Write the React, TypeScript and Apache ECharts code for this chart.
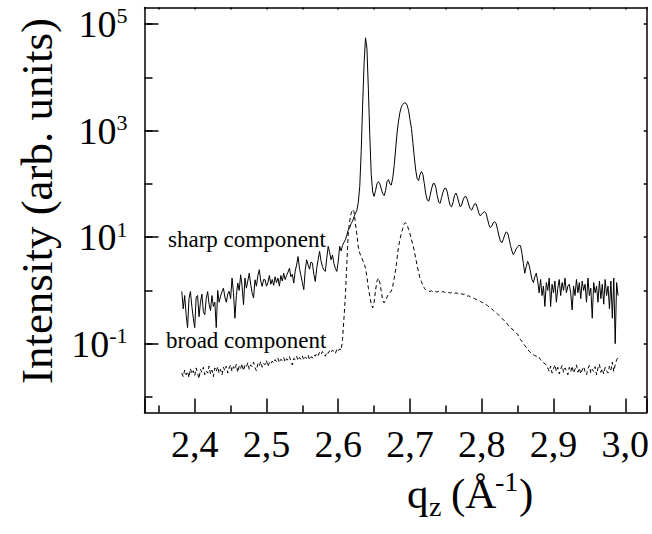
import React, { useEffect, useRef } from 'react';
import * as echarts from 'echarts';

// q grid of both measured curves (Å^-1)
const Q_START = 2.382;
const Q_STEP = 0.002;

// sharp component intensities (arb. units), one per q step
const sharpValues = [
  0.95, 0.45, 0.8, 0.35, 0.2, 0.7, 0.95, 0.5, 0.3, 0.2,
  0.75, 0.8, 0.32, 0.6, 0.85, 0.4, 0.35, 0.7, 0.95, 0.55,
  0.42, 0.8, 0.5, 0.6, 0.2, 1.0, 0.6, 0.77, 0.95, 1.1,
  0.75, 0.6, 0.85, 0.96, 0.7, 1.7, 0.9, 0.3, 0.8, 1.37,
  1.0, 1.96, 1.2, 0.54, 1.7, 1.1, 1.5, 2.1, 1.3, 0.9,
  0.72, 1.58, 1.2, 1.9, 2.44, 1.5, 1.19, 1.6, 1.58, 1.2,
  1.4, 1.9, 1.3, 1.6, 1.25, 1.8, 1.4, 1.7, 1.2, 1.9,
  1.5, 2.1, 1.6, 1.9, 2.2, 2.6, 1.8, 2.0, 1.37, 2.3,
  3.0, 4.3, 2.6, 1.9, 1.4, 1.03, 2.4, 3.75, 3.0, 2.5,
  3.4, 3.25, 2.0, 1.47, 2.6, 3.8, 5.4, 3.6, 2.8, 2.4,
  2.27, 4.0, 6.7, 5.2, 3.75, 4.6, 3.2, 2.6, 2.27, 3.5,
  6.7, 5.5, 7.0, 8.0, 8.9, 11, 13.7,
  15, 18, 20, 24, 28, 32, 45, 90, 400, 3000,
  18000, 55000, 35000, 6000, 800, 150, 70, 58, 75, 100,
  110, 100, 80, 65,
  60, 75, 110, 120, 100, 95, 130, 220, 450, 900,
  1500, 2200, 2800, 3100, 3300, 3300, 3000, 2400, 1600, 1100,
  600, 320, 180, 125,
  115, 150, 170, 150, 100, 65, 50, 47, 60, 80,
  100, 102, 85, 60, 45, 43, 55, 70, 82, 83,
  70, 50, 39, 37, 45, 60, 67, 58, 45, 37,
  40, 50, 57, 58, 50, 40, 34, 32, 37, 42,
  42, 35, 28, 25, 27, 29, 30, 28, 22, 17,
  15, 16, 18.5, 19.5, 18, 14, 10.5, 8.5, 7.8, 9,
  11, 12.5, 12, 9.5, 7, 5.5, 4.7, 5.2, 6, 6.6,
  7, 6.9, 5, 3.2, 2.1, 2.8, 3.5, 3.0, 2.2, 1.6, 1.4, 1.8, 2.1,
  1.5, 0.9, 1.6, 0.8, 1.2, 0.5, 1.4, 1.0, 1.7, 0.5,
  1.3, 0.9, 1.5, 0.6, 1.1, 1.6, 0.8, 1.4, 1.0, 1.7,
  0.9, 1.2, 1.3, 0.9, 0.43, 1.2, 0.8, 1.6, 0.9, 1.4,
  0.7, 1.5, 1.0, 1.3, 0.6, 1.7, 0.8, 1.1, 0.3, 1.4,
  0.9, 1.2, 0.6, 1.5, 0.7, 1.3, 0.55, 1.6, 0.8, 1.2,
  0.45, 1.5, 0.3, 1.7, 0.1, 1.4, 0.8,
];

// broad component intensities (arb. units), same q grid
const broadValues = [
  0.028, 0.024, 0.032, 0.026, 0.03, 0.023, 0.034, 0.027, 0.031, 0.025,
  0.035, 0.028, 0.022, 0.033, 0.029, 0.036, 0.026, 0.031, 0.028, 0.038,
  0.027, 0.032, 0.024, 0.035, 0.03, 0.037, 0.028, 0.033, 0.026, 0.036,
  0.031, 0.038, 0.028, 0.035, 0.04, 0.03, 0.037, 0.033, 0.041, 0.029,
  0.038, 0.034, 0.042, 0.031, 0.039, 0.036, 0.044, 0.033, 0.04, 0.037,
  0.045, 0.035, 0.031, 0.042, 0.038, 0.046, 0.036, 0.043, 0.04, 0.048,
  0.037, 0.044, 0.041, 0.047,
  0.043, 0.05, 0.046, 0.053, 0.044, 0.051, 0.048, 0.055, 0.045, 0.052,
  0.049, 0.057, 0.047, 0.04, 0.053, 0.05, 0.058, 0.048, 0.055, 0.051,
  0.059, 0.049, 0.056, 0.053, 0.061, 0.05, 0.057, 0.054,
  0.062, 0.058, 0.066, 0.06, 0.069, 0.063, 0.071, 0.065, 0.058, 0.07,
  0.066, 0.074, 0.068, 0.076, 0.07, 0.065, 0.078, 0.072, 0.08, 0.075,
  0.12, 0.3, 0.8, 3.2, 12, 20, 28, 33, 30, 18,
  11, 6.5, 5.0, 4.3, 3.7, 3.2, 2.6, 1.8, 1.1, 0.77,
  0.55, 0.47, 0.6, 1.0, 1.5, 1.7, 1.4, 0.95, 0.65, 0.58,
  0.65, 0.75, 0.85, 0.92, 0.96, 1.2, 1.7, 2.4, 4, 6.5,
  9, 12, 14.5, 18, 18.6, 17, 14, 11.5, 9, 7.2,
  5.5, 4.0, 2.9, 2.2, 1.7, 1.45, 1.25, 1.1, 1.02, 0.98,
  0.96,
  0.96, 0.98, 0.94, 0.97, 0.95, 0.93, 0.96, 0.94, 0.92, 0.95,
  0.93, 0.9, 0.93, 0.91, 0.89, 0.92, 0.9, 0.87, 0.9, 0.88,
  0.85, 0.88, 0.86, 0.84, 0.85, 0.8, 0.78, 0.79, 0.76, 0.73,
  0.72, 0.7, 0.68, 0.66, 0.65, 0.62, 0.6, 0.58, 0.56, 0.54,
  0.52, 0.49, 0.47, 0.45, 0.42, 0.4, 0.38, 0.36, 0.34, 0.32,
  0.3, 0.28, 0.27, 0.25, 0.23, 0.21, 0.2, 0.19, 0.18, 0.17,
  0.16, 0.15, 0.13, 0.12, 0.11, 0.1, 0.092, 0.085, 0.078, 0.072,
  0.068, 0.065, 0.062, 0.06, 0.058, 0.06, 0.055, 0.05, 0.046, 0.044,
  0.042, 0.04,
  0.035, 0.03, 0.038, 0.028, 0.034, 0.04, 0.03, 0.036, 0.027, 0.033,
  0.039, 0.029, 0.035, 0.031, 0.026, 0.036, 0.03, 0.038, 0.028, 0.033,
  0.04, 0.029, 0.035, 0.027, 0.032, 0.037, 0.03, 0.026, 0.034, 0.039,
  0.028, 0.033, 0.03, 0.037, 0.026, 0.035, 0.041, 0.029, 0.034, 0.027,
  0.036, 0.031, 0.028, 0.038, 0.032, 0.045, 0.03, 0.04, 0.05, 0.055,
];

// axis ranges and ticks
const X_MIN = 2.33;
const X_MAX = 3.03;
const Y_MIN = 0.0051;
const Y_MAX = 204000;
const yAllDecades = [0.01, 0.1, 1, 10, 100, 1000, 10000, 100000];
const yLabelledDecades = [0.1, 10, 1000, 100000];

const SERIF = '"Liberation Serif", "Times New Roman", serif';

const toPairs = (vals: number[]) =>
  vals.map((v, i) => [Number((Q_START + i * Q_STEP).toFixed(3)), v]);

export default function App() {
  const ref = useRef<HTMLDivElement>(null);

  useEffect(() => {
    if (!ref.current) return;
    const chart = echarts.init(ref.current, undefined, { renderer: 'svg' });
    const black = '#000';
    const commonY = {
      type: 'log' as const,
      logBase: 10,
      min: Y_MIN,
      max: Y_MAX,
      splitLine: { show: false },
      minorSplitLine: { show: false },
    };
    chart.setOption({
      animation: false,
      backgroundColor: '#fff',
      grid: { left: 144.5, right: 1.5, top: 7.5, bottom: 121.5, containLabel: false },
      xAxis: [
        {
          type: 'value',
          min: X_MIN,
          max: X_MAX,
          position: 'bottom',
          axisLine: { show: true, onZero: false, lineStyle: { color: black, width: 1.5 } },
          axisTick: { show: true, inside: true, length: 14, lineStyle: { color: black, width: 1.5 } },
          minorTick: { show: true, splitNumber: 2, length: 7, lineStyle: { color: black, width: 1.5 } },
          splitLine: { show: false },
          axisLabel: {
            show: true,
            margin: 12,
            color: black,
            fontSize: 38,
            fontFamily: SERIF,
            showMinLabel: false,
            showMaxLabel: false,
            formatter: (v: number) =>
              Math.abs(v * 10 - Math.round(v * 10)) > 1e-6 ? '' : v.toFixed(1).replace('.', ','),
          },
        },
        {
          type: 'value',
          min: X_MIN,
          max: X_MAX,
          position: 'top',
          axisLine: { show: true, onZero: false, lineStyle: { color: black, width: 1.5 } },
          axisTick: { show: true, inside: true, length: 2, lineStyle: { color: black, width: 1.5 } },
          minorTick: { show: true, splitNumber: 2, length: 2, lineStyle: { color: black, width: 1.5 } },
          splitLine: { show: false },
          axisLabel: { show: false },
        },
      ],
      yAxis: [
        {
          ...commonY,
          position: 'left',
          axisLine: { show: true, lineStyle: { color: black, width: 1.5 } },
          axisTick: { show: true, inside: true, length: 8, customValues: yAllDecades, lineStyle: { color: black, width: 1.5 } },
          axisLabel: { show: false },
        },
        {
          ...commonY,
          position: 'left',
          axisLine: { show: false },
          axisTick: { show: true, inside: true, length: 14, customValues: yLabelledDecades, lineStyle: { color: black, width: 1.5 } },
          axisLabel: {
            show: true,
            margin: 17,
            customValues: yLabelledDecades,
            formatter: (v: number) => `{b|10}{s|${Math.round(Math.log10(v))}}`,
            rich: {
              b: { fontSize: 38, fontFamily: SERIF, color: black },
              s: { fontSize: 22, fontFamily: SERIF, color: black, verticalAlign: 'top' },
            },
          },
        },
        {
          ...commonY,
          position: 'right',
          axisLine: { show: true, lineStyle: { color: black, width: 1.5 } },
          axisTick: { show: true, inside: true, length: 3, customValues: yAllDecades, lineStyle: { color: black, width: 1.5 } },
          axisLabel: { show: false },
        },
      ],
      series: [
        {
          name: 'sharp component',
          type: 'line',
          xAxisIndex: 0,
          yAxisIndex: 0,
          data: toPairs(sharpValues),
          showSymbol: false,
          symbol: 'none',
          lineStyle: { color: black, width: 1 },
          silent: true,
        },
        {
          name: 'broad component',
          type: 'line',
          xAxisIndex: 0,
          yAxisIndex: 0,
          data: toPairs(broadValues),
          showSymbol: false,
          symbol: 'none',
          lineStyle: { color: black, width: 1, type: [4, 3] },
          silent: true,
        },
      ],
      graphic: [
        {
          type: 'text',
          x: 37,
          y: 201,
          rotation: Math.PI / 2,
          style: {
            text: 'Intensity (arb. units)',
            fontSize: 45,
            fontFamily: SERIF,
            fill: black,
            textAlign: 'center',
            textVerticalAlign: 'middle',
          },
        },
        {
          type: 'text', x: 407, y: 493,
          style: { text: 'q', fontSize: 43, fontFamily: SERIF, fill: black, textAlign: 'left', textVerticalAlign: 'middle' },
        },
        {
          type: 'text', x: 429, y: 506,
          style: { text: 'z', fontSize: 28, fontFamily: SERIF, fill: black, textAlign: 'left', textVerticalAlign: 'middle' },
        },
        {
          type: 'text', x: 451, y: 493,
          style: { text: '(Å', fontSize: 43, fontFamily: SERIF, fill: black, textAlign: 'left', textVerticalAlign: 'middle' },
        },
        {
          type: 'text', x: 495, y: 481,
          style: { text: '-1', fontSize: 28, fontFamily: SERIF, fill: black, textAlign: 'left', textVerticalAlign: 'middle' },
        },
        {
          type: 'text', x: 519, y: 493,
          style: { text: ')', fontSize: 43, fontFamily: SERIF, fill: black, textAlign: 'left', textVerticalAlign: 'middle' },
        },
        {
          type: 'text', x: 168, y: 239,
          style: { text: 'sharp component', fontSize: 23, fontFamily: SERIF, fill: black, textAlign: 'left', textVerticalAlign: 'middle' },
        },
        {
          type: 'text', x: 166, y: 340,
          style: { text: 'broad component', fontSize: 23, fontFamily: SERIF, fill: black, textAlign: 'left', textVerticalAlign: 'middle' },
        },
      ],
    });
    return () => chart.dispose();
  }, []);

  return (
    <div
      ref={ref}
      style={{ position: 'fixed', left: 0, top: 0, width: 652, height: 534, background: '#fff' }}
    />
  );
}
